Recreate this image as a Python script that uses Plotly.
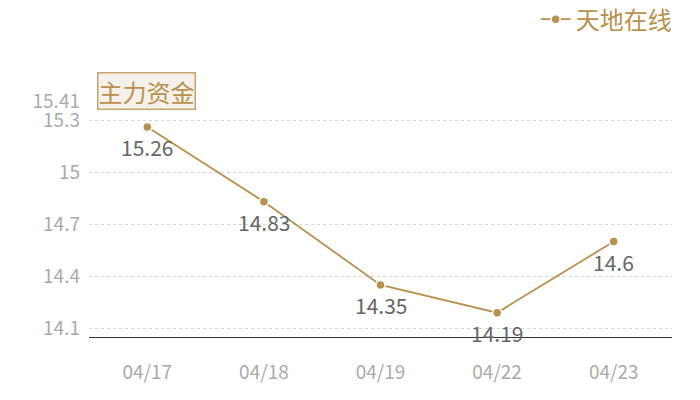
import plotly.graph_objects as go

# ── Data ──────────────────────────────────────────────────────────────────────
dates = ["04/17", "04/18", "04/19", "04/22", "04/23"]
prices = [15.26, 14.83, 14.35, 14.19, 14.6]
y_ticks = [14.1, 14.4, 14.7, 15, 15.3, 15.41]
y_tick_text = ["14.1", "14.4", "14.7", "15", "15.3", "15.41"]
series_name = "天地在线"
title_text = "主力资金"

GOLD = "#B8914E"
FONT = "Noto Sans CJK SC, sans-serif"

fig = go.Figure()
fig.add_trace(go.Scatter(
    x=dates,
    y=prices,
    name=series_name,
    mode="lines+markers",
    line=dict(color=GOLD, width=1.8),
    marker=dict(size=9, color=GOLD, line=dict(color="white", width=1.5)),
))

# value labels sit a little further below each point than textposition allows
labels = [dict(
    x=d, y=p, xref="x", yref="y",
    text=str(p), showarrow=False,
    yanchor="middle", yshift=-20,
    font=dict(size=21, color="#666666", family=FONT),
) for d, p in zip(dates, prices)]

title_box = dict(
    text=title_text,
    xref="paper", yref="paper",
    x=0.0137, y=1.042,
    xanchor="left", yanchor="middle",
    showarrow=False,
    font=dict(size=24, color=GOLD, family=FONT),
    bgcolor="#F5F0EA",
    bordercolor="#C9A46A",
    borderwidth=1.5,
    borderpad=0,
)

# page body has an 8px margin, so margins are shifted to compensate
fig.update_layout(
    width=700,
    height=400,
    margin=dict(t=93, b=71, l=81, r=36, autoexpand=False),
    paper_bgcolor="white",
    plot_bgcolor="white",
    font=dict(family=FONT, color="#aaaaaa"),
    showlegend=True,
    legend=dict(
        x=1.008, y=1.345, xref="paper", yref="paper",
        xanchor="right", yanchor="middle",
        orientation="h",
        font=dict(size=24, color=GOLD, family=FONT),
        itemwidth=30,
    ),
    xaxis=dict(
        type="category",
        range=[-0.5, 4.5],
        showgrid=False,
        showline=True,
        linecolor="#333333",
        linewidth=1.2,
        ticks="",
        tickfont=dict(size=19, color="#aaaaaa"),
        ticklabelstandoff=18,
        automargin=False,
    ),
    yaxis=dict(
        range=[14.05, 15.41],
        tickvals=y_ticks,
        ticktext=y_tick_text,
        showgrid=True,
        gridcolor="#d6d6d6",
        griddash="dot",
        gridwidth=1,
        zeroline=False,
        showline=False,
        ticks="",
        tickfont=dict(size=19, color="#aaaaaa"),
        ticklabelstandoff=8,
        automargin=False,
    ),
    annotations=labels + [title_box],
)

fig.write_html("out.html")
